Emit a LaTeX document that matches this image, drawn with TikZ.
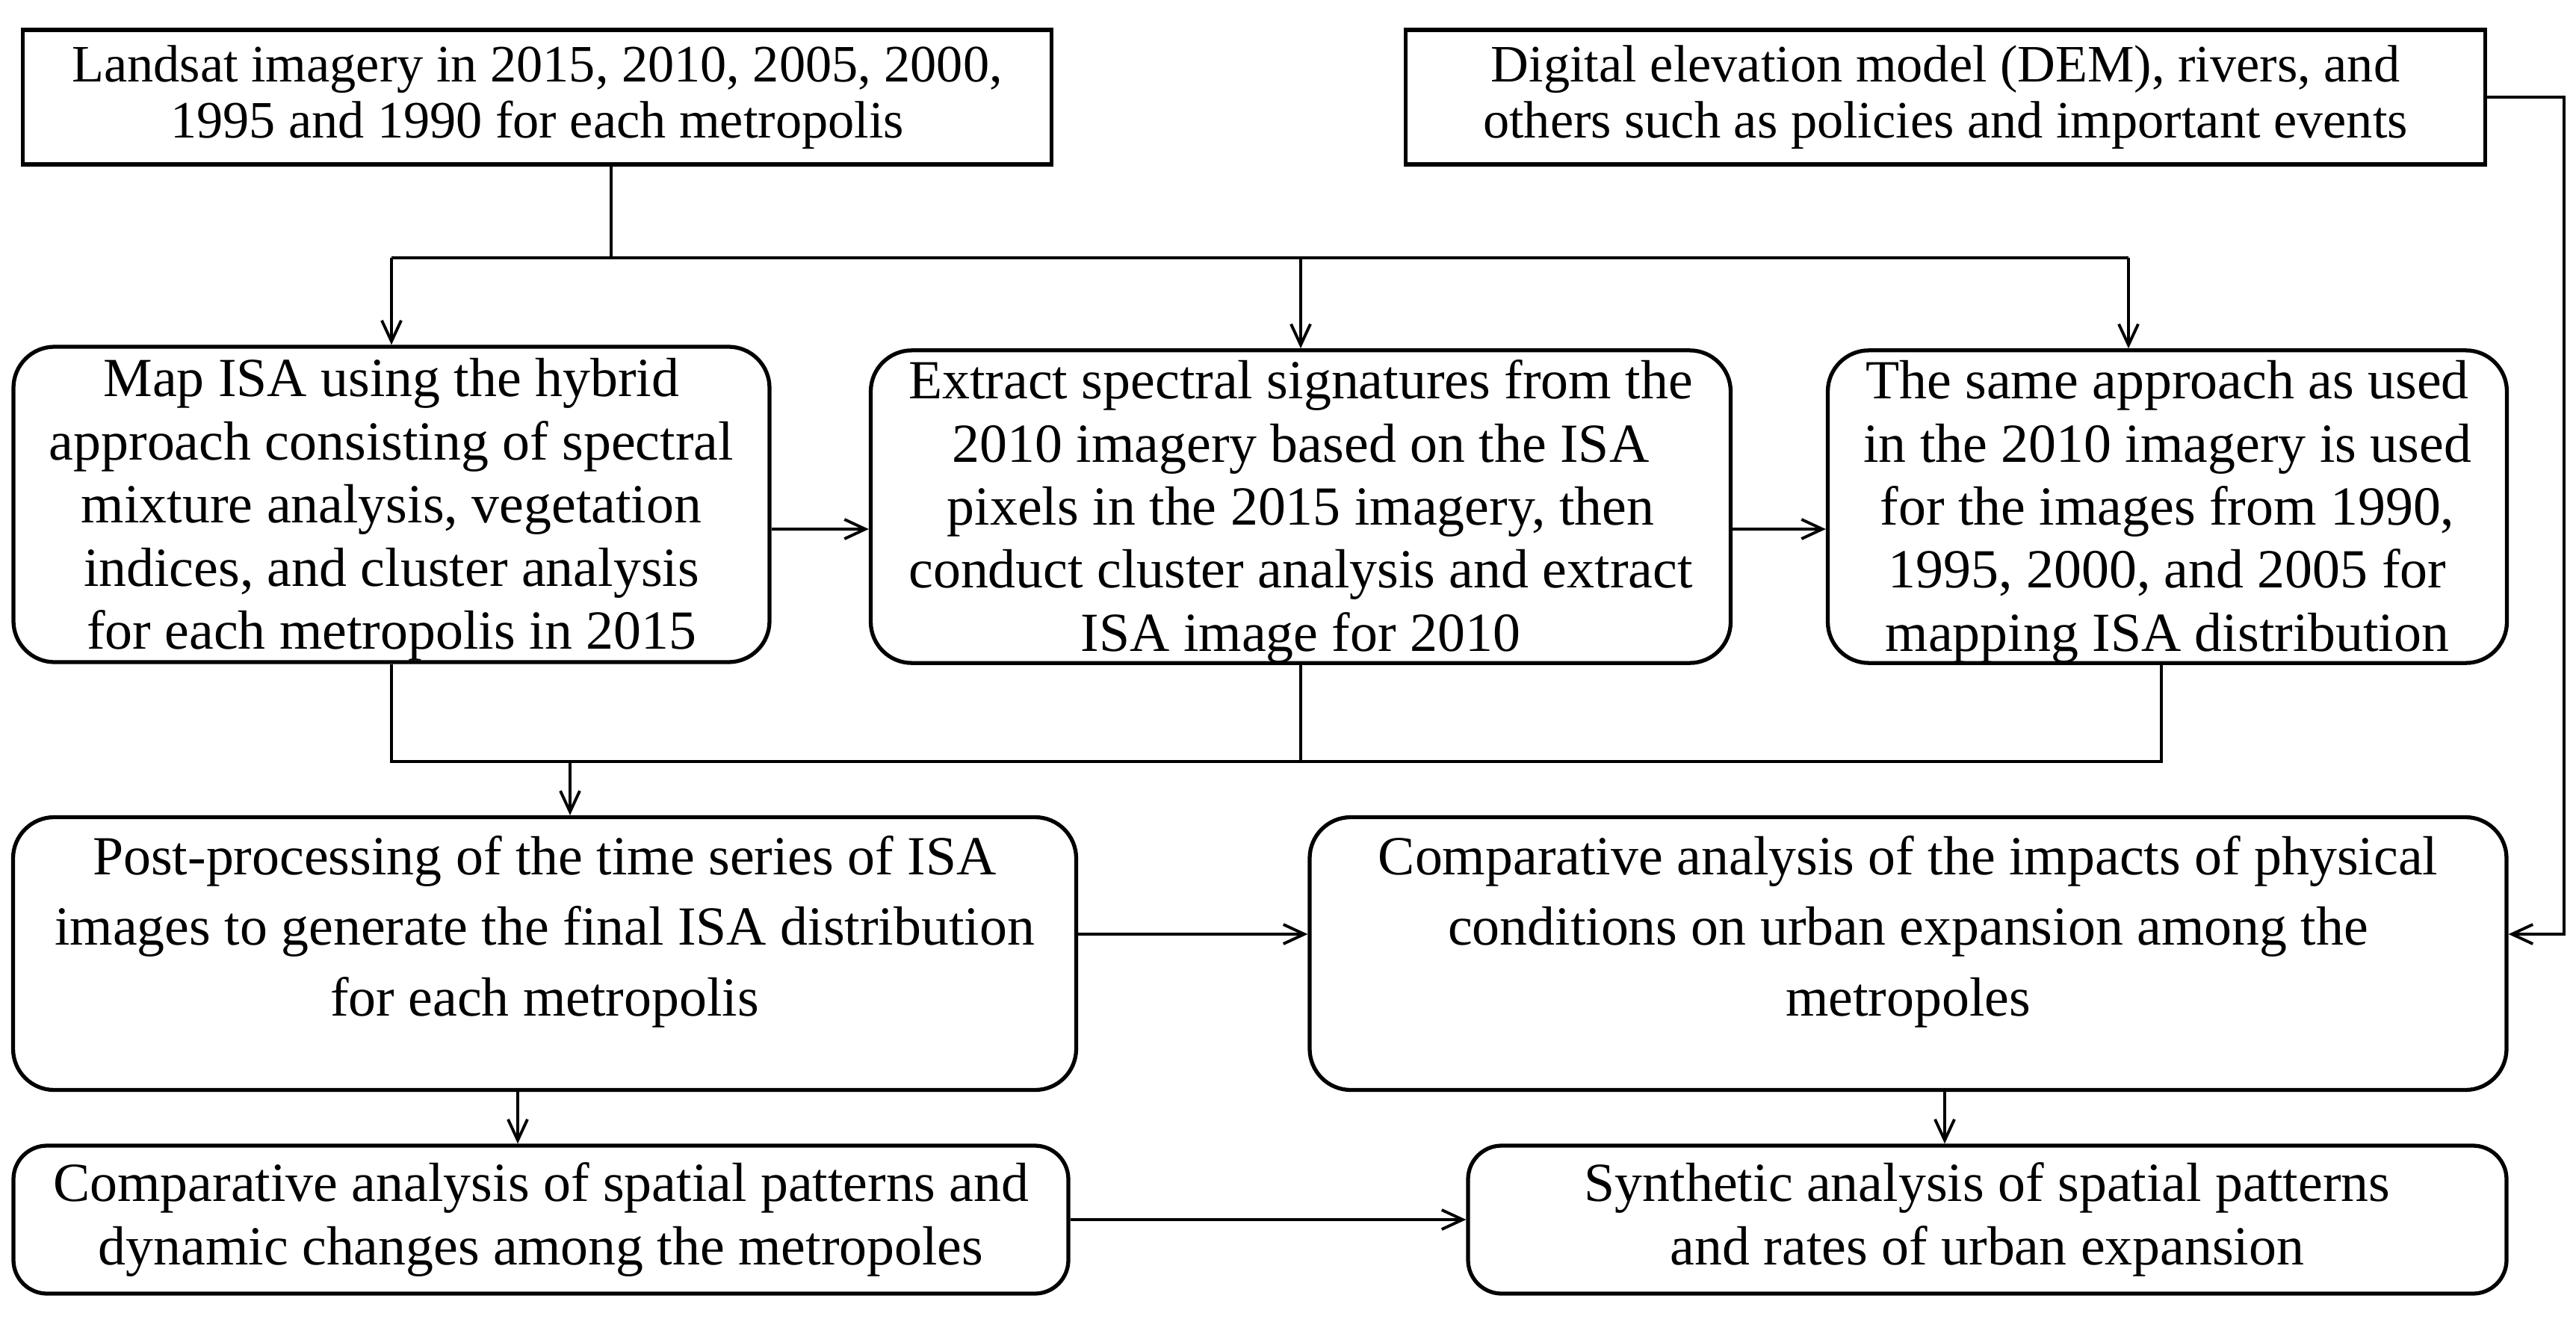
\documentclass[tikz,border=0pt]{standalone}
\usepackage{fontspec}
\setmainfont{Liberation Serif}
\usepackage{tikz}
\usetikzlibrary{arrows.meta, shapes, positioning, calc}

% invisible struts to push the text lines down / up inside a box
\newcommand{\lowertext}{\rule{0pt}{0.65cm}}
\newcommand{\raisetext}{\rule[-0.74cm]{0pt}{0pt}}

\begin{document}
\begin{tikzpicture}[
    % Styles
    source/.style={rectangle, draw, line width=1.5pt, minimum height=1.8cm, inner sep=2pt, align=center, font=\fontsize{20}{21.5}\selectfont},
    process/.style={rectangle, draw, rounded corners=0.55cm, line width=1.5pt, inner sep=2pt, align=center, font=\fontsize{21}{24.3}\selectfont},
    mapping/.style={process, inner ysep=0pt, font=\fontsize{21}{24}\selectfont},
    line/.style={line width=1.1pt},
    arrow/.style={-{Straight Barb[length=2.8mm, width=2.6mm]}, line width=1.1pt}
]
\useasboundingbox (0,0) rectangle (34.48,-17.69);

% --- Input data ---
\node[source, minimum width=13.77cm] (landsat) at (7.19,-1.30) {Landsat imagery in 2015, 2010, 2005, 2000,\\1995 and 1990 for each metropolis};
\node[source, minimum width=14.45cm] (dem) at (26.04,-1.30) {Digital elevation model (DEM), rivers, and\\others such as policies and important events};

% --- ISA mapping ---
\node[mapping, minimum width=10.12cm, minimum height=4.22cm] (map_isa) at (5.24,-6.75) {\lowertext Map ISA using the hybrid\\approach consisting of spectral\\mixture analysis, vegetation\\indices, and cluster analysis\\for each metropolis in 2015};
\node[mapping, minimum width=11.51cm, minimum height=4.18cm] (extract) at (17.41,-6.78) {\lowertext Extract spectral signatures from the\\2010 imagery based on the ISA\\pixels in the 2015 imagery, then\\conduct cluster analysis and extract\\ISA image for 2010};
\node[mapping, minimum width=9.09cm, minimum height=4.18cm] (same_approach) at (29.01,-6.78) {\lowertext The same approach as used\\in the 2010 imagery is used\\for the images from 1990,\\1995, 2000, and 2005 for\\mapping ISA distribution};

% --- Post-processing and analysis ---
\node[process, minimum width=14.23cm, minimum height=3.65cm, font=\fontsize{21}{27}\selectfont] (post) at (7.29,-12.76) {Post-processing of the time series of ISA\\images to generate the final ISA distribution\\for each metropolis\raisetext};
\node[process, minimum width=16.02cm, minimum height=3.65cm, font=\fontsize{21}{27}\selectfont] (physical) at (25.54,-12.76) {Comparative analysis of the impacts of physical\\conditions on urban expansion among the\\metropoles\raisetext};
\node[process, minimum width=14.12cm, minimum height=1.98cm, rounded corners=0.45cm] (spatial) at (7.24,-16.32) {Comparative analysis of spatial patterns and\\dynamic changes among the metropoles};
\node[process, minimum width=13.90cm, minimum height=1.98cm, rounded corners=0.45cm] (synthetic) at (26.60,-16.32) {Synthetic analysis of spatial patterns\\and rates of urban expansion};

% --- Landsat to the three mapping steps ---
\coordinate (split) at (8.18,-3.45);
\coordinate (to_same) at (28.49,-3.45);
\draw[line] (landsat.south -| split) -- (split);
\draw[line] (split -| map_isa.north) -- (to_same);
\draw[arrow] (split -| map_isa.north) -- (map_isa.north);
\draw[arrow] (split -| extract.north) -- (extract.north);
\draw[arrow] (to_same) -- (to_same |- same_approach.north);

% --- Between the mapping steps ---
\coordinate (row_mid) at (0,-7.08);
\draw[arrow] (map_isa.east |- row_mid) -- (extract.west |- row_mid);
\draw[arrow] (extract.east |- row_mid) -- (same_approach.west |- row_mid);

% --- Merge into post-processing ---
\coordinate (merge) at (7.63,-10.19);
\coordinate (from_same) at (28.93,-10.19);
\draw[line] (map_isa.south) -- (map_isa.south |- merge) -- (from_same) -- (from_same |- same_approach.south);
\draw[line] (extract.south) -- (extract.south |- merge);
\draw[arrow] (merge) -- (merge |- post.north);

% --- DEM and the lower rows ---
\coordinate (dem_corner) at (34.32,-12.50);
\draw[arrow] (dem.east) -| (dem_corner) -- (physical.east |- dem_corner);
\draw[arrow] (post.east |- dem_corner) -- (physical.west |- dem_corner);

\coordinate (down_left) at (6.93,0);
\coordinate (down_right) at (26.03,0);
\draw[arrow] (post.south -| down_left) -- (spatial.north -| down_left);
\draw[arrow] (physical.south -| down_right) -- (synthetic.north -| down_right);
\draw[arrow] (spatial.east) -- (synthetic.west);

\end{tikzpicture}
\end{document}
